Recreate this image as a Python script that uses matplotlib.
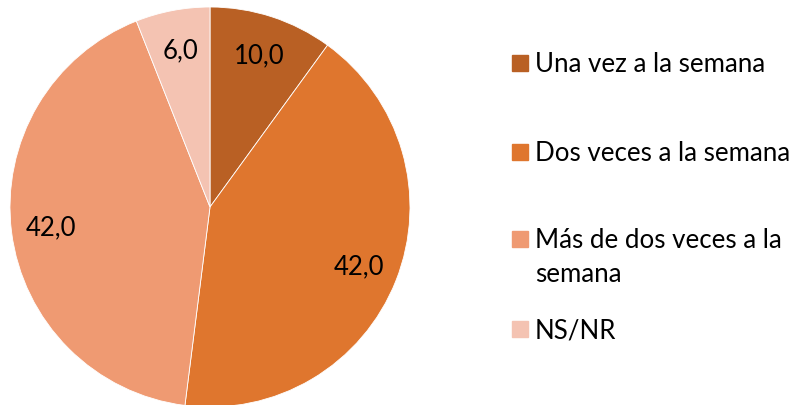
import matplotlib
matplotlib.use("Agg")
import matplotlib.pyplot as plt
from matplotlib.patches import Rectangle

# data
categories = ["Una vez a la semana", "Dos veces a la semana",
              "Más de dos veces a la\nsemana", "NS/NR"]
values = [10.0, 42.0, 42.0, 6.0]
colors = ["#B96024", "#DF762E", "#EF9A72", "#F4C3B2"]

plt.rcParams['font.family'] = ['Lato', 'DejaVu Sans']

W, H = 792, 406
fig = plt.figure(figsize=(W / 100, H / 100), dpi=100)

# pie centred at (210, 208) px, radius 200 px
ax = fig.add_axes([10 / W, (H - 408) / H, 400 / W, 400 / H])
labels = [f"{v:.1f}".replace(".", ",") for v in values]
wedges, texts = ax.pie(values, colors=colors, startangle=90, counterclock=False,
                       labels=labels, labeldistance=0.8, radius=1.0,
                       wedgeprops=dict(edgecolor="white", linewidth=0.6),
                       textprops=dict(fontsize=18.5, color="black"))
for t in texts:
    t.set_horizontalalignment("center")
    t.set_verticalalignment("center")
ax.set_xlim(-1, 1)
ax.set_ylim(-1, 1)
ax.set_aspect("equal")
for w in wedges:
    w.set_clip_on(False)

# legend drawn by hand to follow the uneven spacing
legend_y = [64, 153, 240, 330]
for cat, col, y in zip(categories, colors, legend_y):
    fig.add_artist(Rectangle(((512) / W, 1 - (y + 8) / H), 16 / W, 16 / H,
                             transform=fig.transFigure, color=col))
    fig.text(535 / W, 1 - (y - 12) / H, cat, fontsize=18.6, va="top", ha="left",
             linespacing=1.45)

fig.savefig("out.png", dpi=100)
